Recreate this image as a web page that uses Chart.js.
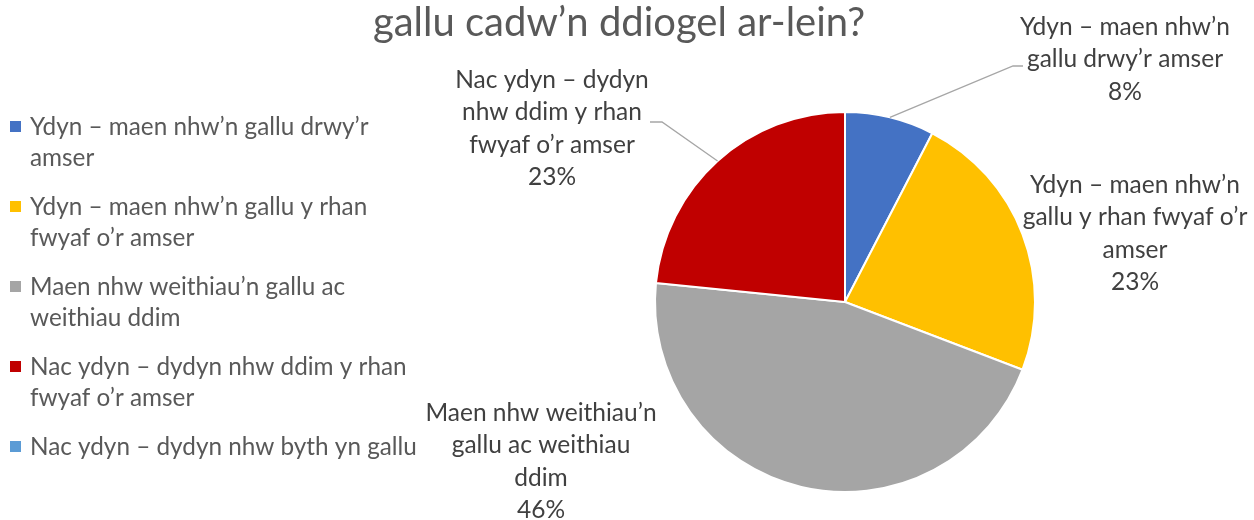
<!DOCTYPE html>
<html>
<head>
<meta charset="utf-8">
<script src="https://cdn.jsdelivr.net/npm/chart.js@4/dist/chart.umd.min.js"></script>
<style>
html,body{margin:0;padding:0;background:#fff}
#wrap{position:relative;width:1254px;height:520px}
</style>
</head>
<body>
<div id="wrap"><canvas id="pie" width="1254" height="520"></canvas></div>
<script>
const titleText='gallu cadw’n ddiogel ar-lein?';
const categories=[
  'Ydyn – maen nhw’n gallu drwy’r amser',
  'Ydyn – maen nhw’n gallu y rhan fwyaf o’r amser',
  'Maen nhw weithiau’n gallu ac weithiau ddim',
  'Nac ydyn – dydyn nhw ddim y rhan fwyaf o’r amser',
  'Nac ydyn – dydyn nhw byth yn gallu'
];
const values=[7.6,23.2,45.8,23.4,0];
const colours=['#4472C4','#FFC000','#A5A5A5','#C00000','#5B9BD5'];
// how the text breaks in the legend and on the slices
const legendLines=[
  ['Ydyn – maen nhw’n gallu drwy’r','amser'],
  ['Ydyn – maen nhw’n gallu y rhan','fwyaf o’r amser'],
  ['Maen nhw weithiau’n gallu ac','weithiau ddim'],
  ['Nac ydyn – dydyn nhw ddim y rhan','fwyaf o’r amser'],
  ['Nac ydyn – dydyn nhw byth yn gallu']
];
const labelLines=[
  ['Ydyn – maen nhw’n','gallu drwy’r amser'],
  ['Ydyn – maen nhw’n','gallu y rhan fwyaf o’r','amser'],
  ['Maen nhw weithiau’n','gallu ac weithiau','ddim'],
  ['Nac ydyn – dydyn','nhw ddim y rhan','fwyaf o’r amser'],
  null
];

const FONT='Lato';
// label placement (centre of first line) + where the leader line meets the text
const labelPos=[
  {x:1125,y:27,lead:{x:1023,y:66}},
  {x:1135,y:185},
  {x:541,y:413},
  {x:552,y:80,lead:{x:650,y:122}},
  null
];

const extras={
  id:'extras',
  afterDraw(chart){
    const ctx=chart.ctx;
    ctx.save();
    // title
    ctx.fillStyle='#595959';
    ctx.font='40px '+FONT;
    ctx.textAlign='center';ctx.textBaseline='alphabetic';
    ctx.fillText(titleText,619,36);
    // legend
    ctx.font='24.3px '+FONT;
    ctx.textAlign='left';ctx.textBaseline='middle';
    let y=127;
    legendLines.forEach(function(lines,i){
      ctx.fillStyle=colours[i];
      ctx.fillRect(10,y-6,11,11);
      ctx.fillStyle='#595959';
      lines.forEach(function(t,k){ctx.fillText(t,30,y+k*31)});
      y+=lines.length*31+18;
    });
    // data labels
    const meta=chart.getDatasetMeta(0);
    ctx.font='24.5px '+FONT;
    ctx.textAlign='center';
    meta.data.forEach(function(arc,i){
      const p=labelPos[i];
      if(!p||!values[i])return;
      const lines=labelLines[i].concat([Math.round(values[i])+'%']);
      if(p.lead){
        const mid=(arc.startAngle+arc.endAngle)/2;
        const ax=arc.x+Math.cos(mid)*arc.outerRadius, ay=arc.y+Math.sin(mid)*arc.outerRadius;
        const ex=p.lead.x+(ax>p.lead.x?12:-10);
        ctx.strokeStyle='#A6A6A6';ctx.lineWidth=1.3;
        ctx.beginPath();ctx.moveTo(ax,ay);ctx.lineTo(ex,p.lead.y);ctx.lineTo(p.lead.x,p.lead.y);ctx.stroke();
      }
      ctx.fillStyle='#404040';
      lines.forEach(function(t,k){ctx.fillText(t,p.x,p.y+k*32.5)});
    });
    ctx.restore();
  }
};

new Chart(document.getElementById('pie'),{
  type:'pie',
  data:{labels:categories,datasets:[{data:values,backgroundColor:colours,borderColor:'#fff',borderWidth:2}]},
  options:{
    responsive:false,animation:false,
    layout:{padding:{left:654,right:218,top:111,bottom:27}},
    plugins:{legend:{display:false},tooltip:{enabled:false},title:{display:false}}
  },
  plugins:[extras]
});
</script>
</body>
</html>
